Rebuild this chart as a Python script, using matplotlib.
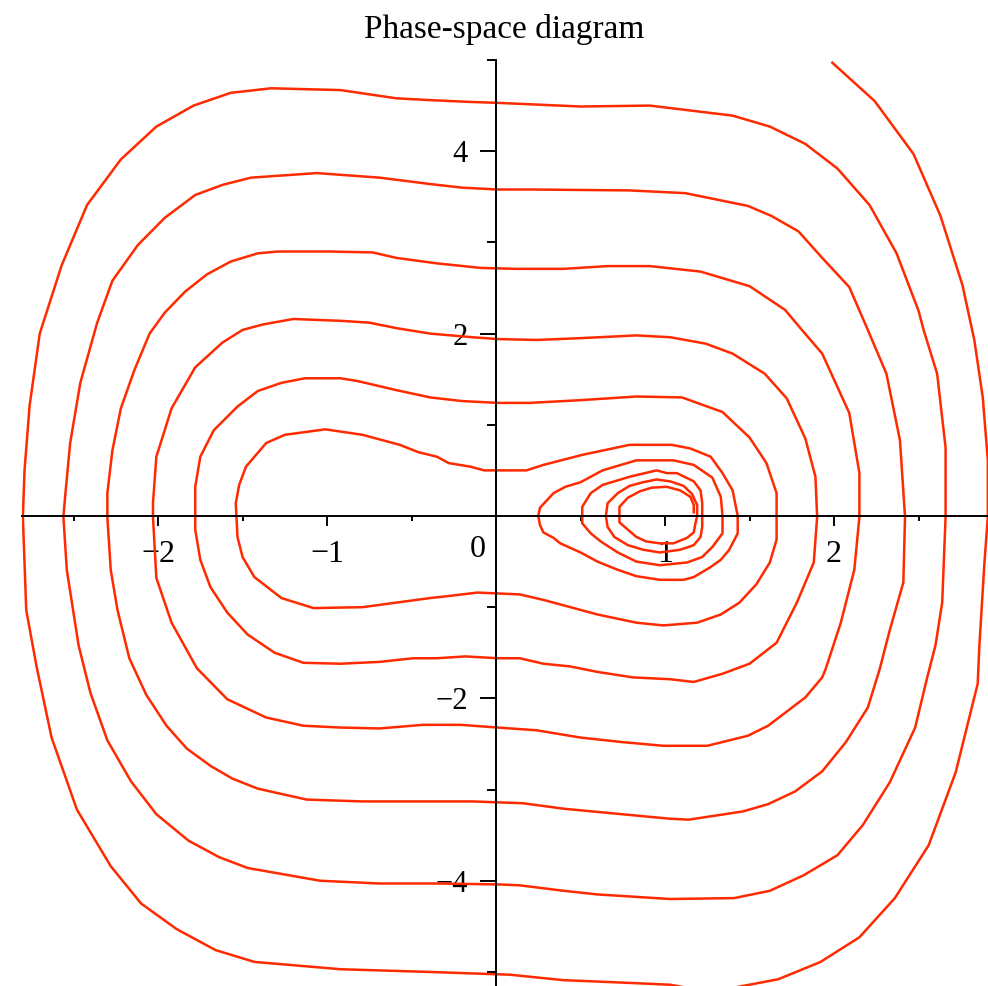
import numpy as np
import matplotlib.pyplot as plt

plt.rcParams['font.family'] = ['Liberation Serif', 'DejaVu Serif']

# Trajectory of the damped oscillator, read lap by lap (clockwise spiral)
lap0_x = [1.99, 2.24, 2.47, 2.63, 2.76, 2.83, 2.88, 2.91, 2.91, 2.89,
          2.86, 2.85, 2.72, 2.56, 2.36, 2.15, 1.92, 1.67, 1.50, 1.27,
          1.03, 0.79, 0.40, 0.08, -0.39, -0.92, -1.43, -1.66, -1.89, -2.10,
          -2.28, -2.48, -2.63, -2.72, -2.78, -2.79, -2.80]
lap0_y = [4.97, 4.55, 3.97, 3.29, 2.53, 1.93, 1.30, 0.61, -0.01, -0.51,
          -1.42, -1.84, -2.81, -3.61, -4.19, -4.62, -4.89, -5.08, -5.14, -5.22,
          -5.14, -5.12, -5.09, -5.03, -5.00, -4.97, -4.89, -4.76, -4.53, -4.25,
          -3.84, -3.22, -2.43, -1.64, -1.03, -0.51, -0.01]

lap1_x = [-2.79, -2.76, -2.70, -2.57, -2.42, -2.22, -2.01, -1.79, -1.57, -1.33,
          -0.92, -0.59, -0.39, -0.15, 0.01, 0.50, 0.91, 1.40, 1.62, 1.83,
          2.02, 2.21, 2.37, 2.50, 2.53, 2.61, 2.66, 2.66, 2.64, 2.60,
          2.55, 2.48, 2.33, 2.17, 2.02, 1.82, 1.62, 1.41, 1.03, 0.60,
          0.40, 0.14, 0.01, -0.35, -0.69, -1.04, -1.47, -1.64, -1.82, -2.01,
          -2.16, -2.30, -2.40, -2.47, -2.54, -2.56]
lap1_y = [0.50, 1.21, 2.00, 2.75, 3.41, 3.91, 4.27, 4.50, 4.64, 4.69,
          4.67, 4.58, 4.56, 4.54, 4.53, 4.49, 4.50, 4.39, 4.27, 4.08,
          3.81, 3.41, 2.88, 2.25, 2.04, 1.56, 0.75, -0.01, -0.95, -1.42,
          -1.78, -2.32, -2.92, -3.39, -3.72, -3.94, -4.11, -4.19, -4.20, -4.15,
          -4.11, -4.05, -4.04, -4.03, -4.03, -4.00, -3.86, -3.74, -3.56, -3.27,
          -2.91, -2.46, -1.94, -1.42, -0.59, -0.01]

lap2_x = [-2.55, -2.52, -2.46, -2.36, -2.27, -2.12, -1.96, -1.78, -1.62, -1.45,
          -1.06, -0.69, -0.39, -0.20, 0.01, 0.20, 0.79, 1.12, 1.49, 1.63,
          1.79, 1.93, 2.09, 2.20, 2.31, 2.39, 2.42, 2.41, 2.33, 2.27,
          2.20, 2.07, 1.93, 1.77, 1.61, 1.46, 1.14, 1.03, 0.69, 0.40,
          0.16, 0.01, -0.14, -0.49, -0.79, -1.12, -1.41, -1.56, -1.69, -1.83,
          -1.95, -2.07, -2.17, -2.24, -2.28, -2.30]
lap2_y = [0.21, 0.80, 1.46, 2.12, 2.58, 2.97, 3.27, 3.52, 3.63, 3.71,
          3.76, 3.71, 3.64, 3.60, 3.58, 3.58, 3.57, 3.54, 3.40, 3.29,
          3.12, 2.83, 2.51, 2.04, 1.56, 0.83, -0.01, -0.73, -1.25, -1.68,
          -2.10, -2.48, -2.80, -3.02, -3.16, -3.24, -3.33, -3.32, -3.26, -3.21,
          -3.15, -3.14, -3.13, -3.13, -3.13, -3.11, -2.99, -2.88, -2.74, -2.55,
          -2.30, -1.96, -1.56, -1.03, -0.59, -0.01]

lap3_x = [-2.30, -2.27, -2.22, -2.14, -2.05, -1.96, -1.84, -1.71, -1.57, -1.41,
          -1.29, -0.99, -0.73, -0.59, -0.35, -0.09, 0.12, 0.40, 0.66, 0.91,
          1.21, 1.50, 1.71, 1.81, 1.93, 2.09, 2.15, 2.15, 2.12, 2.04,
          1.95, 1.93, 1.83, 1.61, 1.49, 1.25, 0.99, 0.75, 0.50, 0.24,
          0.01, -0.21, -0.43, -0.69, -0.92, -1.14, -1.36, -1.59, -1.77, -1.92,
          -2.01, -2.03]
lap3_y = [0.25, 0.72, 1.18, 1.60, 2.00, 2.23, 2.46, 2.65, 2.79, 2.88,
          2.90, 2.90, 2.89, 2.83, 2.77, 2.72, 2.71, 2.71, 2.74, 2.74,
          2.68, 2.52, 2.26, 2.04, 1.78, 1.13, 0.47, -0.01, -0.59, -1.17,
          -1.68, -1.77, -1.99, -2.30, -2.41, -2.52, -2.52, -2.48, -2.43, -2.35,
          -2.32, -2.29, -2.29, -2.33, -2.32, -2.30, -2.21, -2.01, -1.67, -1.17,
          -0.68, -0.01]

lap4_x = [-2.03, -2.01, -1.92, -1.78, -1.62, -1.50, -1.38, -1.20, -0.92, -0.75,
          -0.59, -0.39, -0.14, 0.01, 0.24, 0.50, 0.83, 1.03, 1.24, 1.40,
          1.59, 1.72, 1.83, 1.89, 1.90, 1.88, 1.78, 1.66, 1.50, 1.34,
          1.17, 1.03, 0.81, 0.60, 0.44, 0.28, 0.14, 0.01, -0.18, -0.35,
          -0.49, -0.69, -0.92, -1.14, -1.31, -1.47, -1.59, -1.69, -1.75, -1.78]
lap4_y = [0.14, 0.65, 1.18, 1.63, 1.90, 2.04, 2.10, 2.16, 2.14, 2.12,
          2.06, 2.00, 1.96, 1.94, 1.93, 1.95, 1.98, 1.96, 1.89, 1.78,
          1.56, 1.29, 0.85, 0.43, -0.01, -0.51, -0.95, -1.39, -1.62, -1.73,
          -1.82, -1.79, -1.77, -1.71, -1.65, -1.62, -1.56, -1.56, -1.54, -1.56,
          -1.56, -1.60, -1.62, -1.61, -1.50, -1.30, -1.06, -0.78, -0.48, -0.15]

lap5_x = [-1.78, -1.75, -1.67, -1.53, -1.41, -1.27, -1.13, -0.92, -0.82, -0.59,
          -0.39, -0.20, 0.01, 0.20, 0.50, 0.83, 1.10, 1.34, 1.50, 1.60,
          1.66, 1.66, 1.66, 1.62, 1.54, 1.44, 1.33, 1.19, 0.99, 0.83,
          0.60, 0.44, 0.28, 0.14, 0.01, -0.11, -0.20, -0.29, -0.39, -0.59,
          -0.79, -1.08, -1.27, -1.43, -1.50, -1.53, -1.54]
lap5_y = [0.32, 0.65, 0.94, 1.20, 1.37, 1.46, 1.51, 1.51, 1.48, 1.38,
          1.30, 1.26, 1.24, 1.24, 1.27, 1.31, 1.30, 1.14, 0.86, 0.58,
          0.25, -0.01, -0.26, -0.51, -0.75, -0.95, -1.08, -1.17, -1.20, -1.17,
          -1.08, -1.00, -0.92, -0.86, -0.85, -0.84, -0.86, -0.88, -0.90, -0.95,
          -1.00, -1.01, -0.90, -0.67, -0.45, -0.23, 0.14]

lap6_x = [-1.52, -1.48, -1.36, -1.25, -1.01, -0.79, -0.69, -0.57, -0.46, -0.35,
          -0.28, -0.15, -0.07, 0.01, 0.18, 0.28, 0.51, 0.79, 1.04, 1.15,
          1.27, 1.34, 1.40, 1.43, 1.43, 1.38, 1.33, 1.27, 1.17, 1.11,
          0.97, 0.83, 0.72, 0.60, 0.50, 0.38, 0.34, 0.28, 0.26, 0.25]
lap6_y = [0.34, 0.54, 0.80, 0.89, 0.95, 0.89, 0.84, 0.78, 0.70, 0.65,
          0.58, 0.54, 0.50, 0.50, 0.50, 0.56, 0.67, 0.78, 0.78, 0.74,
          0.65, 0.47, 0.28, 0.00, -0.19, -0.37, -0.48, -0.56, -0.67, -0.70,
          -0.70, -0.66, -0.59, -0.50, -0.40, -0.30, -0.24, -0.18, -0.10, 0.00]

# last turns, winding in on the right-hand well near x = 1
inner_x = [0.26, 0.34, 0.41, 0.50, 0.63, 0.83, 1.05, 1.17, 1.28, 1.33,
           1.34, 1.34, 1.28, 1.22, 1.13, 0.97, 0.83, 0.72, 0.62, 0.56,
           0.51, 0.51, 0.51, 0.56, 0.63, 0.79, 0.95, 1.01, 1.07, 1.17,
           1.21, 1.22, 1.22, 1.22, 1.21, 1.17, 1.09, 0.97, 0.87, 0.78,
           0.70, 0.66, 0.65, 0.66, 0.72, 0.79, 0.87, 0.95, 1.03, 1.11,
           1.16, 1.19, 1.19, 1.18, 1.17, 1.13, 1.05, 0.97, 0.89, 0.83,
           0.78, 0.73, 0.73, 0.73, 0.78, 0.85, 0.92, 1.01, 1.09, 1.15,
           1.17, 1.17]
inner_y = [0.09, 0.25, 0.32, 0.37, 0.50, 0.61, 0.61, 0.56, 0.42, 0.21,
           0.00, -0.19, -0.34, -0.45, -0.51, -0.54, -0.50, -0.40, -0.28, -0.19,
           -0.08, 0.00, 0.10, 0.25, 0.34, 0.43, 0.50, 0.47, 0.47, 0.38,
           0.28, 0.14, 0.00, -0.12, -0.23, -0.32, -0.37, -0.40, -0.37, -0.32,
           -0.23, -0.12, 0.00, 0.14, 0.25, 0.33, 0.37, 0.40, 0.38, 0.33,
           0.24, 0.12, 0.00, -0.08, -0.18, -0.24, -0.30, -0.30, -0.28, -0.23,
           -0.15, -0.07, 0.00, 0.10, 0.20, 0.27, 0.31, 0.32, 0.28, 0.21,
           0.12, 0.04]

x = np.concatenate([lap0_x, lap1_x, lap2_x, lap3_x, lap4_x, lap5_x, lap6_x, inner_x])
y = np.concatenate([lap0_y, lap1_y, lap2_y, lap3_y, lap4_y, lap5_y, lap6_y, inner_y])

xticks = [-2, -1, 1, 2]
xticklabels = ['\u22122', '\u22121', '1', '2']
yticks = [-4, -2, 2, 4]
yticklabels = ['\u22124', '\u22122', '2', '4']

fig = plt.figure(figsize=(9.88, 9.86), dpi=100)
ax = fig.add_axes([22 / 988, 0, 966 / 988, 926 / 986])
ax.patch.set_visible(False)

ax.plot(x, y, color='#ff2a00', lw=1.8)

ax.set_xlim(-2.805, 2.911)
ax.set_ylim(-5.154, 5.0)

# axes through the origin, Maple style
for side in ['top', 'right']:
    ax.spines[side].set_visible(False)
for side in ['left', 'bottom']:
    ax.spines[side].set_position(('data', 0))
    ax.spines[side].set_linewidth(1.4)

ax.set_xticks(xticks)
ax.set_xticklabels(xticklabels)
ax.set_xticks([-2.5, -1.5, -0.5, 0.5, 1.5, 2.5], minor=True)
ax.set_yticks(yticks)
ax.set_yticklabels(yticklabels)
ax.set_yticks([-5, -3, -1, 1, 3, 5], minor=True)

ax.tick_params(axis='x', which='major', direction='out', length=7.2, width=1.4,
               labelsize=23, pad=10)
ax.tick_params(axis='x', which='minor', direction='out', length=3.6, width=1.4)
ax.tick_params(axis='y', which='major', direction='out', length=11.5, width=1.4,
               labelsize=22, pad=9)
ax.tick_params(axis='y', which='minor', direction='out', length=6.5, width=1.4)

ax.annotate('0', xy=(0, 0), xytext=(-18, -41), textcoords='offset pixels',
            ha='center', va='baseline', fontsize=23)

fig.text(504 / 988, 1 - 38 / 986, 'Phase-space diagram', ha='center',
         va='baseline', fontsize=24)

fig.savefig('out.png', dpi=100)
